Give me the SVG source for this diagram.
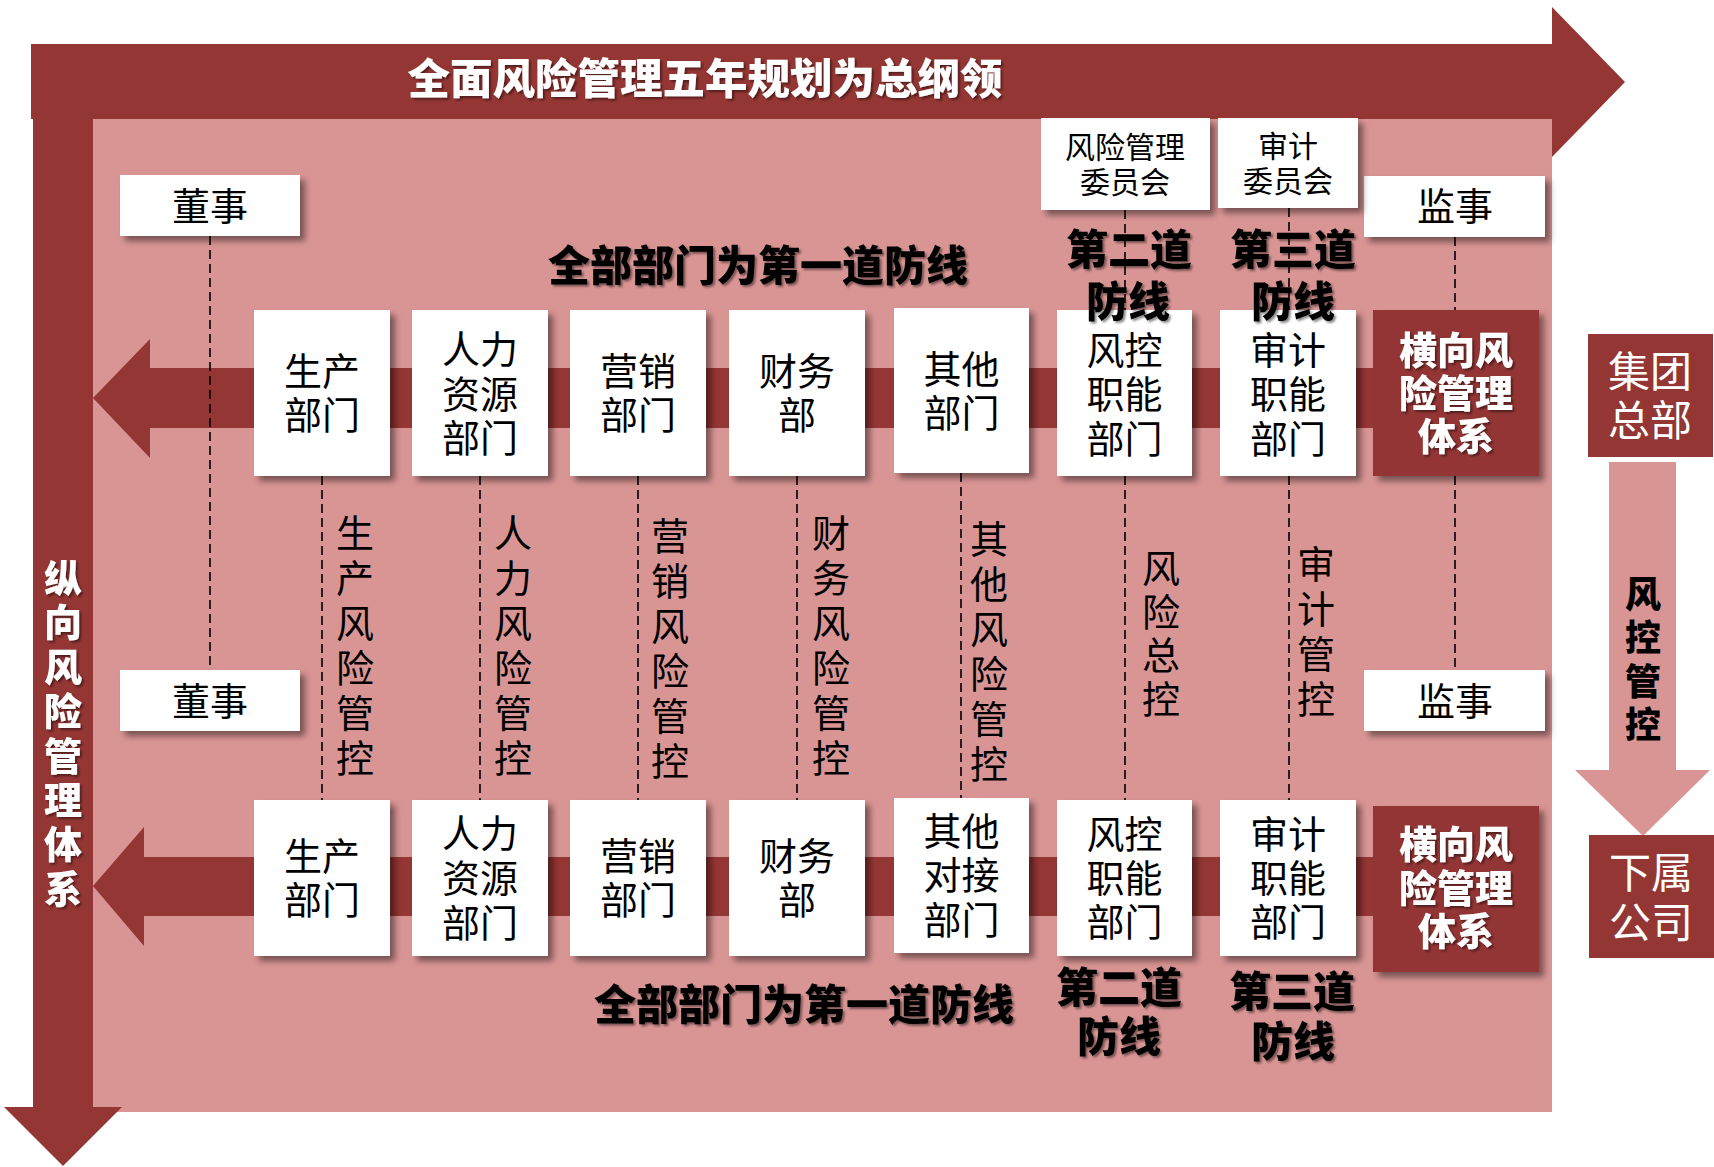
<svg xmlns="http://www.w3.org/2000/svg" width="1714" height="1167" viewBox="0 0 1714 1167">
<defs>
<filter id="sh" x="-10%" y="-10%" width="130%" height="130%"><feDropShadow dx="5" dy="5" stdDeviation="3" flood-color="#000" flood-opacity="0.45"/></filter>
<filter id="ts" x="-5%" y="-5%" width="115%" height="130%"><feDropShadow dx="2" dy="2" stdDeviation="1" flood-color="#000" flood-opacity="0.45"/></filter>
<style>
.dk{fill:#943634}
.pk{fill:#D99594}
.bx{fill:#fff;filter:url(#sh)}
.db{fill:#943634;filter:url(#sh)}
text{font-family:"Liberation Sans","Noto Sans CJK SC",sans-serif;text-anchor:middle;dominant-baseline:central}
.t{font-size:38px;fill:#000}
.tc{font-size:30px;fill:#000}
.b{font-size:42px;font-weight:900;fill:#000;filter:url(#ts)}
.w{font-size:38px;font-weight:900;fill:#fff;filter:url(#ts)}
.wr{font-size:42px;fill:#fff}
.v{font-size:38px;fill:#000}
.vb{font-size:36px;font-weight:900;fill:#000}
.dash{stroke:#000;stroke-width:1.6;stroke-dasharray:9 5;fill:none}
</style>
</defs>

<g id="background">
<rect class="pk" x="93" y="119" width="1459" height="993"/>
<rect class="dk" x="31" y="44" width="1521" height="75"/>
<polygon class="dk" points="1552,7 1625,82 1552,157"/>
<rect class="dk" x="33" y="119" width="60" height="988"/>
<polygon class="dk" points="4,1107 122,1107 63,1166"/>
<polygon class="dk" points="93,398 150,339 150,368 1373,368 1373,428 150,428 150,458"/>
<polygon class="dk" points="93,886 144,827 144,857 1373,857 1373,916 144,916 144,946"/>
<rect class="pk" x="1609" y="462" width="67" height="308"/>
<polygon class="pk" points="1575,770 1710,770 1643,836"/>
<text x="705" y="79" class="w" style="font-size:42.5px">全面风险管理五年规划为总纲领</text>
<text class="w" x="63"><tspan x="63" y="579">纵</tspan><tspan x="63" y="623.4">向</tspan><tspan x="63" y="667.8">风</tspan><tspan x="63" y="712.2">险</tspan><tspan x="63" y="756.6">管</tspan><tspan x="63" y="801">理</tspan><tspan x="63" y="845.4">体</tspan><tspan x="63" y="889.8">系</tspan></text>
</g>

<g id="connectors">
<line class="dash" x1="210" y1="236" x2="210" y2="670"/>
<line class="dash" x1="1455" y1="237" x2="1455" y2="310"/>
<line class="dash" x1="1455" y1="476" x2="1455" y2="670"/>
<line class="dash" x1="322" y1="476" x2="322" y2="800"/>
<line class="dash" x1="480" y1="476" x2="480" y2="800"/>
<line class="dash" x1="638" y1="476" x2="638" y2="800"/>
<line class="dash" x1="797" y1="476" x2="797" y2="800"/>
<line class="dash" x1="961" y1="473" x2="961" y2="798"/>
<line class="dash" x1="1125" y1="476" x2="1125" y2="800"/>
<line class="dash" x1="1289" y1="476" x2="1289" y2="800"/>
<line class="dash" x1="1125" y1="210" x2="1125" y2="310"/>
<line class="dash" x1="1289" y1="208" x2="1289" y2="310"/>
</g>

<g id="dongshi-top"><rect class="bx" x="120" y="175" width="180" height="61"/><text class="t" x="210" y="207">董事</text></g>
<g id="dongshi-bottom"><rect class="bx" x="120" y="670" width="180" height="61"/><text class="t" x="210" y="702">董事</text></g>
<g id="jianshi-top"><rect class="bx" x="1364" y="176" width="181" height="61"/><text class="t" x="1455" y="207">监事</text></g>
<g id="jianshi-bottom"><rect class="bx" x="1364" y="670" width="181" height="61"/><text class="t" x="1455" y="702">监事</text></g>
<g id="risk-committee"><rect class="bx" x="1041" y="118" width="169" height="92"/><text class="tc"><tspan x="1125" y="147">风险管理</tspan><tspan x="1125" y="182">委员会</tspan></text></g>
<g id="audit-committee"><rect class="bx" x="1218" y="118" width="140" height="90"/><text class="tc"><tspan x="1288" y="146">审计</tspan><tspan x="1288" y="181">委员会</tspan></text></g>

<g id="u-prod"><rect class="bx" x="254" y="310" width="136" height="166"/><text class="t"><tspan x="322" y="372">生产</tspan><tspan x="322" y="415.5">部门</tspan></text></g>
<g id="u-hr"><rect class="bx" x="412" y="310" width="136" height="166"/><text class="t"><tspan x="480" y="350">人力</tspan><tspan x="480" y="394.5">资源</tspan><tspan x="480" y="439">部门</tspan></text></g>
<g id="u-mkt"><rect class="bx" x="570" y="310" width="136" height="166"/><text class="t"><tspan x="638" y="372">营销</tspan><tspan x="638" y="415.5">部门</tspan></text></g>
<g id="u-fin"><rect class="bx" x="729" y="310" width="136" height="166"/><text class="t"><tspan x="797" y="372">财务</tspan><tspan x="797" y="415.5">部</tspan></text></g>
<g id="u-other"><rect class="bx" x="894" y="308" width="135" height="165"/><text class="t"><tspan x="961.5" y="369.5">其他</tspan><tspan x="961.5" y="414">部门</tspan></text></g>
<g id="u-riskctl"><rect class="bx" x="1057" y="310" width="135" height="166"/><text class="t"><tspan x="1124.5" y="351">风控</tspan><tspan x="1124.5" y="395">职能</tspan><tspan x="1124.5" y="439.5">部门</tspan></text></g>
<g id="u-audit"><rect class="bx" x="1220" y="310" width="136" height="166"/><text class="t"><tspan x="1288" y="351">审计</tspan><tspan x="1288" y="395">职能</tspan><tspan x="1288" y="439.5">部门</tspan></text></g>
<g id="u-horiz"><rect class="db" x="1373" y="310" width="166" height="166"/><text class="w"><tspan x="1456" y="351">横向风</tspan><tspan x="1456" y="394">险管理</tspan><tspan x="1456" y="437">体系</tspan></text></g>

<g id="l-prod"><rect class="bx" x="254" y="800" width="136" height="156"/><text class="t"><tspan x="322" y="857">生产</tspan><tspan x="322" y="900.5">部门</tspan></text></g>
<g id="l-hr"><rect class="bx" x="412" y="800" width="136" height="156"/><text class="t"><tspan x="480" y="834">人力</tspan><tspan x="480" y="879">资源</tspan><tspan x="480" y="924">部门</tspan></text></g>
<g id="l-mkt"><rect class="bx" x="570" y="800" width="136" height="156"/><text class="t"><tspan x="638" y="857">营销</tspan><tspan x="638" y="900.5">部门</tspan></text></g>
<g id="l-fin"><rect class="bx" x="729" y="800" width="136" height="156"/><text class="t"><tspan x="797" y="857">财务</tspan><tspan x="797" y="900.5">部</tspan></text></g>
<g id="l-other"><rect class="bx" x="894" y="798" width="135" height="155"/><text class="t"><tspan x="961.5" y="831.5">其他</tspan><tspan x="961.5" y="876">对接</tspan><tspan x="961.5" y="920.5">部门</tspan></text></g>
<g id="l-riskctl"><rect class="bx" x="1057" y="800" width="135" height="156"/><text class="t"><tspan x="1124.5" y="835">风控</tspan><tspan x="1124.5" y="879">职能</tspan><tspan x="1124.5" y="923">部门</tspan></text></g>
<g id="l-audit"><rect class="bx" x="1220" y="800" width="136" height="156"/><text class="t"><tspan x="1288" y="835">审计</tspan><tspan x="1288" y="879">职能</tspan><tspan x="1288" y="923">部门</tspan></text></g>
<g id="l-horiz"><rect class="db" x="1373" y="806" width="166" height="166"/><text class="w"><tspan x="1456" y="845">横向风</tspan><tspan x="1456" y="889">险管理</tspan><tspan x="1456" y="932">体系</tspan></text></g>

<g id="group-hq"><rect class="dk" x="1588" y="334" width="125" height="123"/><text class="wr"><tspan x="1650" y="372">集团</tspan><tspan x="1650" y="421">总部</tspan></text></g>
<g id="subsidiary"><rect class="dk" x="1589" y="835" width="125" height="123"/><text class="wr"><tspan x="1651" y="872.5">下属</tspan><tspan x="1651" y="922.5">公司</tspan></text></g>
<g id="risk-control-label"><text class="vb"><tspan x="1643" y="595">风</tspan><tspan x="1643" y="638.3">控</tspan><tspan x="1643" y="681.6">管</tspan><tspan x="1643" y="725">控</tspan></text></g>

<g id="labels">
<text class="b" x="758" y="266">全部部门为第一道防线</text>
<text class="b" x="804" y="1005">全部部门为第一道防线</text>
<text class="b"><tspan x="1129" y="250">第二道</tspan><tspan x="1128" y="302">防线</tspan></text>
<text class="b"><tspan x="1293" y="250">第三道</tspan><tspan x="1293" y="302">防线</tspan></text>
<text class="b"><tspan x="1119" y="988">第二道</tspan><tspan x="1119" y="1037">防线</tspan></text>
<text class="b"><tspan x="1292" y="992">第三道</tspan><tspan x="1293" y="1042">防线</tspan></text>
<text class="v"><tspan x="355" y="534">生</tspan><tspan x="355" y="579">产</tspan><tspan x="355" y="624">风</tspan><tspan x="355" y="669">险</tspan><tspan x="355" y="714">管</tspan><tspan x="355" y="759">控</tspan></text>
<text class="v"><tspan x="513" y="534">人</tspan><tspan x="513" y="579">力</tspan><tspan x="513" y="624">风</tspan><tspan x="513" y="669">险</tspan><tspan x="513" y="714">管</tspan><tspan x="513" y="759">控</tspan></text>
<text class="v"><tspan x="670" y="537">营</tspan><tspan x="670" y="582">销</tspan><tspan x="670" y="627">风</tspan><tspan x="670" y="672">险</tspan><tspan x="670" y="717">管</tspan><tspan x="670" y="762">控</tspan></text>
<text class="v"><tspan x="831" y="534">财</tspan><tspan x="831" y="579">务</tspan><tspan x="831" y="624">风</tspan><tspan x="831" y="669">险</tspan><tspan x="831" y="714">管</tspan><tspan x="831" y="759">控</tspan></text>
<text class="v"><tspan x="989" y="540">其</tspan><tspan x="989" y="585">他</tspan><tspan x="989" y="630">风</tspan><tspan x="989" y="675">险</tspan><tspan x="989" y="720">管</tspan><tspan x="989" y="765">控</tspan></text>
<text class="v"><tspan x="1161" y="569">风</tspan><tspan x="1161" y="612.7">险</tspan><tspan x="1161" y="656.4">总</tspan><tspan x="1161" y="700">控</tspan></text>
<text class="v"><tspan x="1316" y="565">审</tspan><tspan x="1316" y="610">计</tspan><tspan x="1316" y="655">管</tspan><tspan x="1316" y="700">控</tspan></text>
</g>
</svg>
